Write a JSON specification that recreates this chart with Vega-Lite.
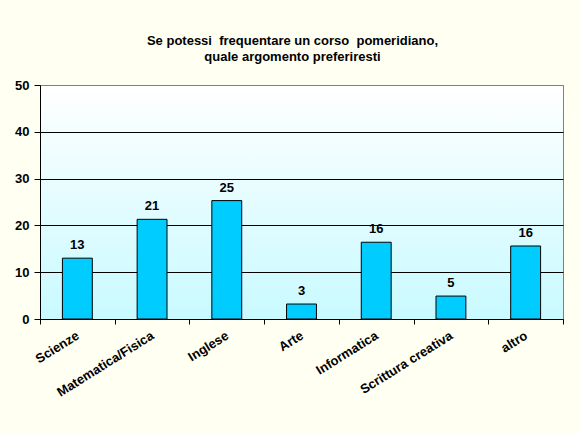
{
  "$schema": "https://vega.github.io/schema/vega-lite/v6.json",
  "width": 523,
  "height": 234,
  "autosize": "none",
  "padding": {"left": 40, "top": 85, "right": 17, "bottom": 115},
  "background": "#FFFFF2",
  "title": {
    "text": ["Se potessi \u00a0frequentare un corso \u00a0pomeridiano,", "quale argomento preferiresti"],
    "font": "Liberation Sans",
    "fontSize": 13,
    "fontWeight": "bold",
    "lineHeight": 16,
    "offset": 15,
    "dx": -9,
    "color": "black"
  },
  "data": {
    "values": [
      {"argomento": "Scienze", "valore": 13.0},
      {"argomento": "Matematica/Fisica", "valore": 21.3},
      {"argomento": "Inglese", "valore": 25.3},
      {"argomento": "Arte", "valore": 3.2},
      {"argomento": "Informatica", "valore": 16.4},
      {"argomento": "Scrittura creativa", "valore": 4.9},
      {"argomento": "altro", "valore": 15.6}
    ]
  },
  "encoding": {
    "x": {
      "field": "argomento",
      "type": "nominal",
      "sort": null,
      "scale": {"paddingInner": 0, "paddingOuter": 0},
      "axis": {
        "title": null,
        "labelAngle": -32,
        "labelAlign": "right",
        "labelBaseline": "top",
        "labelPadding": 5,
        "labelOffset": -3,
        "tickBand": "extent",
        "tickSize": 5,
        "tickColor": "black",
        "domainColor": "black",
        "labelFont": "Liberation Sans",
        "labelFontSize": 13,
        "labelFontWeight": "bold",
        "labelColor": "black",
        "zindex": 1
      }
    },
    "y": {
      "field": "valore",
      "type": "quantitative",
      "scale": {"domain": [0, 50], "nice": false},
      "axis": {
        "title": null,
        "values": [0, 10, 20, 30, 40, 50],
        "tickSize": 6,
        "tickColor": "black",
        "domainColor": "black",
        "gridColor": {"condition": {"test": "datum.value == 50", "value": "#808080"}, "value": "black"},
        "gridOpacity": 1,
        "labelFont": "Liberation Sans",
        "labelFontSize": 13,
        "labelFontWeight": "bold",
        "labelColor": "black",
        "labelPadding": 5
      }
    }
  },
  "layer": [
    {
      "mark": {"type": "bar", "width": {"band": 0.4}, "fill": "#00CCFF", "stroke": "black", "strokeWidth": 1}
    },
    {
      "mark": {"type": "text", "dy": -13, "font": "Liberation Sans", "fontSize": 13, "fontWeight": "bold", "color": "black"},
      "encoding": {
        "text": {"field": "valore", "type": "quantitative", "format": ".0f"}
      }
    }
  ],
  "config": {
    "view": {
      "stroke": "#808080",
      "strokeWidth": 1,
      "fill": {
        "gradient": "linear",
        "x1": 0, "y1": 0, "x2": 0, "y2": 1,
        "stops": [
          {"offset": 0, "color": "#FFFFFF"},
          {"offset": 1, "color": "#C8FAFF"}
        ]
      }
    }
  }
}
